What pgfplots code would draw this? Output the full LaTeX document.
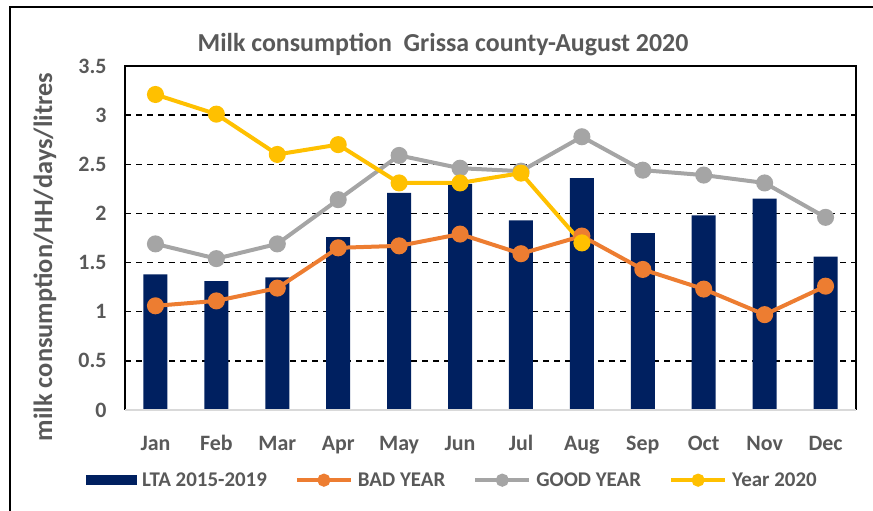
\documentclass[border=0pt]{standalone}
\usepackage{fontspec}
\setmainfont{Carlito}
\usepackage{pgfplots}
\pgfplotsset{compat=1.18}
\definecolor{navy}{HTML}{002060}
\definecolor{orng}{HTML}{ED7D31}
\definecolor{gry}{HTML}{A5A5A5}
\definecolor{ylw}{HTML}{FFC000}
\definecolor{txt}{HTML}{595959}
\pgfplotsset{
  lineleg/.style={legend image code/.code={\draw[mark repeat=2,mark phase=2,mark size=4.5bp] plot coordinates {(0bp,0bp) (27bp,0bp) (54bp,0bp)};}}
}
\begin{document}
\begin{tikzpicture}[x=1bp,y=1bp]
\path[use as bounding box] (0,0) rectangle (873,511);
\draw[line width=1.8bp] (10,0) -- (10,504) -- (873,504);
\node[font=\bfseries\fontsize{26}{26}\selectfont, text=txt] at (443,466) {Milk consumption\ \ Grissa county-August 2020};
\node[rotate=90, font=\bfseries\fontsize{26.5}{26.5}\selectfont, text=txt] at (45,254) {milk consumption/HH/days/litres};
\begin{axis}[
  at={(125bp,101bp)}, anchor=south west, scale only axis,
  width=731bp, height=344bp,
  xmin=-0.5, xmax=11.5, ymin=0, ymax=3.5,
  xtick={0,1,2,3,4,5,6,7,8,9,10,11},
  xticklabels={Jan,Feb,Mar,Apr,May,Jun,Jul,Aug,Sep,Oct,Nov,Dec},
  ytick={0,0.5,1,1.5,2,2.5,3,3.5},
  major tick length=0pt,
  /pgf/number format/assume math mode=true,
  ticklabel style={font=\bfseries\fontsize{22}{22}\selectfont, text=txt},
  yticklabel style={xshift=-15bp},
  xticklabel style={anchor=base, yshift=-41bp},
  axis line style={draw=none},
  ymajorgrids,
  major grid style={black, dash pattern=on 6bp off 5bp, line width=1.5bp},
  legend style={at={(0.448,-0.204)}, anchor=center, draw=none, fill=none,
    legend columns=4, font=\bfseries\fontsize{21}{21}\selectfont, text=txt,
    /tikz/every odd column/.append style={column sep=3bp},
    /tikz/every even column/.append style={column sep=26bp}},
  clip=false,
]
\addplot[ybar, bar width=24bp, fill=navy, draw=none,
  legend image code/.code={\fill[navy] (0bp,-5bp) rectangle (51bp,5bp);}]
  coordinates {(0,1.38) (1,1.31) (2,1.35) (3,1.76) (4,2.21) (5,2.30) (6,1.93) (7,2.36) (8,1.80) (9,1.98) (10,2.15) (11,1.56)};
\addlegendentry{LTA 2015-2019}
\addplot[orng, line width=4bp, mark=*, mark size=6.5bp, mark options={solid, fill=orng}, lineleg]
  coordinates {(0,1.06) (1,1.11) (2,1.24) (3,1.65) (4,1.67) (5,1.79) (6,1.59) (7,1.77) (8,1.43) (9,1.23) (10,0.97) (11,1.26)};
\addlegendentry{BAD YEAR}
\addplot[gry, line width=4bp, mark=*, mark size=6.5bp, mark options={solid, fill=gry}, lineleg]
  coordinates {(0,1.69) (1,1.54) (2,1.69) (3,2.14) (4,2.59) (5,2.46) (6,2.43) (7,2.78) (8,2.44) (9,2.39) (10,2.31) (11,1.96)};
\addlegendentry{GOOD YEAR}
\addplot[ylw, line width=4bp, mark=*, mark size=6.5bp, mark options={solid, fill=ylw}, lineleg]
  coordinates {(0,3.21) (1,3.01) (2,2.60) (3,2.70) (4,2.31) (5,2.31) (6,2.41) (7,1.70)};
\addlegendentry{Year 2020}
\draw[black, line width=1.6bp] (rel axis cs:0,0) -- (rel axis cs:0,1) -- (rel axis cs:1,1) -- (rel axis cs:1,0);
\draw[black!15, line width=1.6bp] (rel axis cs:0,0) -- (rel axis cs:1,0);
\end{axis}
\end{tikzpicture}
\end{document}
